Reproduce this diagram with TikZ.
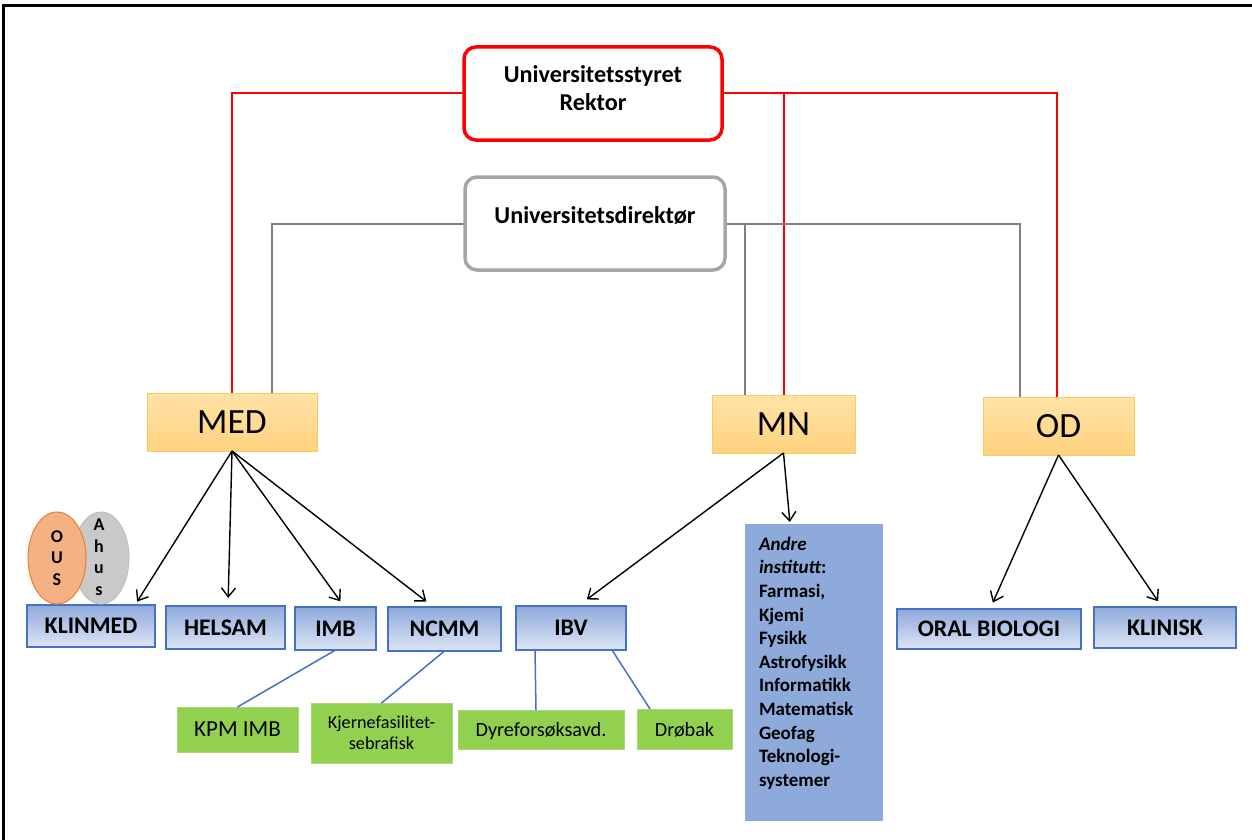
\documentclass[tikz,border=0pt]{standalone}
\usepackage{fontspec}
\setmainfont{Carlito}
\usetikzlibrary{arrows.meta,shapes.geometric,backgrounds}

\definecolor{boardred}{HTML}{FF0000}
\definecolor{dirgrey}{HTML}{A6A6A6}
\definecolor{linegrey}{HTML}{808080}
\definecolor{facTop}{HTML}{FFE3A6}
\definecolor{facBot}{HTML}{FFD27F}
\definecolor{facEdge}{HTML}{F9CB5A}
\definecolor{deptTop}{HTML}{8FAADC}
\definecolor{deptBot}{HTML}{DDE5F5}
\definecolor{deptEdge}{HTML}{4472C4}
\definecolor{unitGreen}{HTML}{92D050}
\definecolor{unitEdge}{HTML}{A9D77A}
\definecolor{otherBlue}{HTML}{8EAADB}
\definecolor{ousFill}{HTML}{F4B183}
\definecolor{ousEdge}{HTML}{ED7D31}
\definecolor{ahusFill}{HTML}{C9C9C9}
\definecolor{ahusEdge}{HTML}{BFBFBF}

\begin{document}
\begin{tikzpicture}[x=1pt,y=-1pt,
  every node/.style={inner sep=0pt, outer sep=0pt},
  rektorbox/.style={draw=boardred, line width=3.5pt, rounded corners=12pt, fill=white},
  dirbox/.style={draw=dirgrey, line width=3.5pt, rounded corners=12pt, fill=white},
  toptext/.style={align=center, font=\fontsize{24.2}{28}\selectfont\bfseries},
  fac/.style={draw=facEdge, line width=1pt, top color=facTop, bottom color=facBot,
              font=\fontsize{35.5}{40}\selectfont},
  dept/.style={draw=deptEdge, line width=1.5pt, top color=deptTop, bottom color=deptBot,
               font=\fontsize{23.8}{26}\selectfont\bfseries},
  unit/.style={draw=unitEdge, line width=0.8pt, fill=unitGreen},
  redline/.style={draw=boardred, line width=2pt},
  greyline/.style={draw=linegrey, line width=2pt},
  arr/.style={line width=1.4pt, -{Straight Barb[length=9pt,width=14pt]}},
  link/.style={draw=deptEdge, line width=1.5pt},
  oval/.style={ellipse, line width=1pt},
  ovaltext/.style={align=center, font=\fontsize{18}{21.5}\selectfont\bfseries}
]
\useasboundingbox (0,0) rectangle (1252,840);

% outer frame
\draw[line width=2.5pt] (3.5,840) -- (3.5,5.5) -- (1252,5.5);

% top boxes
\node[rektorbox, minimum width=258pt, minimum height=93pt] (rektor) at (593,93.5) {};
\node[toptext] (rektortxt) at (593,88) {Universitetsstyret\\Rektor};
\node[dirbox, minimum width=260pt, minimum height=93pt] (direktor) at (595,223.5) {};
\node[toptext, anchor=base] (direktortxt) at (595,223) {Universitetsdirektør};

% faculties
\node[fac, minimum width=170pt, minimum height=58pt] (med) at (232,422) {MED};
\node[fac, minimum width=143pt, minimum height=58pt] (mn) at (783.5,424) {MN};
\node[fac, minimum width=151pt, minimum height=58pt] (od) at (1058.5,426) {OD};

% governance lines, behind the boxes
\coordinate (medgrey) at ([xshift=40pt]med.north);
\coordinate (mngrey) at ([xshift=-38.5pt]mn.north);
\coordinate (odgrey) at ([xshift=-38.5pt]od.north);
\coordinate (odred) at ([xshift=-1.5pt]od.north);
\begin{pgfonlayer}{background}
\draw[redline] (rektor.west) -| (med.north);
\draw[redline] (rektor.east) -| (odred);
\draw[redline] (rektor.east -| mn.north) -- (mn.north);
\draw[greyline] (direktor.west) -| (medgrey);
\draw[greyline] (direktor.east) -| (odgrey);
\draw[greyline] (direktor.east -| mngrey) -- (mngrey);
\end{pgfonlayer}

% departments
\node[dept, minimum width=128pt, minimum height=42pt] (klinmed) at (91,626) {KLINMED};
\node[dept, minimum width=119pt, minimum height=43pt] (helsam) at (225.5,627.5) {HELSAM};
\node[dept, minimum width=81pt, minimum height=43pt] (imb) at (335.5,628.5) {IMB};
\node[dept, minimum width=113pt, minimum height=44pt] (ncmm) at (444.5,629) {NCMM};
\node[dept, minimum width=110pt, minimum height=44pt] (ibv) at (571,628) {IBV};
\node[dept, minimum width=184pt, minimum height=40pt] (oral) at (989,629) {ORAL BIOLOGI};
\node[dept, minimum width=142pt, minimum height=41pt] (klinisk) at (1165,627.5) {KLINISK};

% hospital partners
\node[oval, draw=ahusEdge, fill=ahusFill, minimum width=56pt, minimum height=92pt] (ahus) at (101,558) {};
\node[ovaltext] (ahustxt) at (99,557) {A\\h\\u\\s};
\node[oval, draw=ousEdge, fill=ousFill, minimum width=58pt, minimum height=92pt] (ous) at (57,558) {};
\node[ovaltext] (oustxt) at (57,558) {O\\U\\S};

% units
\node[unit, minimum width=121pt, minimum height=45pt, text depth=0pt, font=\fontsize{23}{26}\selectfont] (kpm) at (237.5,729.5) {KPM IMB};
\node[unit, minimum width=141pt, minimum height=60pt, align=center, font=\fontsize{18.2}{21}\selectfont] (kjerne) at (381.5,733) {Kjernefasilitet-\\sebrafisk};
\node[unit, minimum width=166pt, minimum height=39pt, text depth=0pt, font=\fontsize{20.2}{23}\selectfont] (dyre) at (541,729.5) {Dyreforsøksavd.};
\node[unit, minimum width=95pt, minimum height=40pt, text depth=0pt, font=\fontsize{20.2}{23}\selectfont] (drobak) at (684.5,729) {Drøbak};

% other MN departments
\node[fill=otherBlue, minimum width=138pt, minimum height=297pt] (andre) at (814,672.5) {};
\node[anchor=north west, align=left, font=\fontsize{19}{23.6}\selectfont\bfseries] (andretxt) at (759,537)
  {\itshape Andre\\\itshape institutt\upshape:\\Farmasi,\\Kjemi\\Fysikk\\Astrofysikk\\Informatikk\\Matematisk\\Geofag\\Teknologi-\\systemer};

% faculty to department arrows
\draw[arr, shorten >=4pt] (med.south) -- ([xshift=44pt]klinmed.north);
\draw[arr, shorten >=8pt] (med.south) -- ([xshift=2.5pt]helsam.north);
\draw[arr, shorten >=7pt] (med.south) -- ([xshift=9pt]imb.north);
\draw[arr, shorten >=9pt] (med.south) -- ([xshift=-11pt]ncmm.north);
\draw[arr, shorten >=11pt] (mn.south) -- ([xshift=7pt]ibv.north);
\draw[arr, shorten >=2pt] (mn.south) -- ([xshift=-24pt]andre.north);
\draw[arr, shorten >=7pt] (od.south) -- ([xshift=1pt]oral.north);
\draw[arr, shorten >=7pt] (od.south) -- ([xshift=-3pt]klinisk.north);

% department to unit links
\draw[link] (imb.south) -- (kpm.north);
\draw[link] (ncmm.south) -- (kjerne.north);
\draw[link] ([xshift=-36pt]ibv.south) -- ([xshift=-5pt]dyre.north);
\draw[link] ([xshift=41pt]ibv.south) -- ([xshift=-34.5pt]drobak.north);
\end{tikzpicture}
\end{document}
